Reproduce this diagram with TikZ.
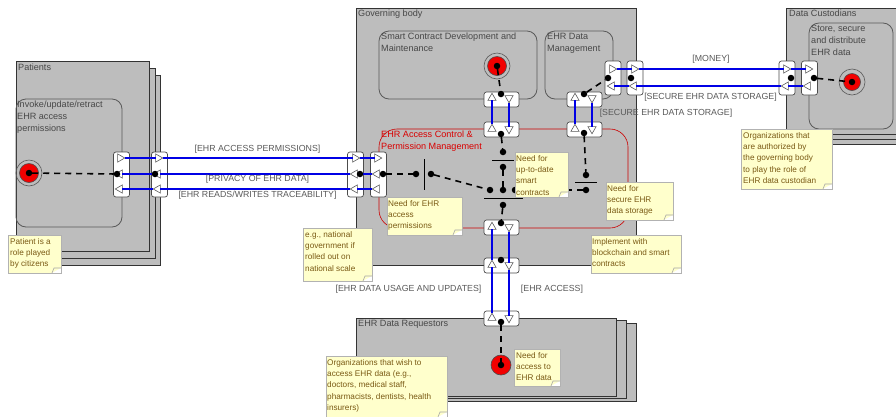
\documentclass[tikz,border=0pt]{standalone}
\usepackage{fontspec}
\setmainfont{Liberation Sans}
\usetikzlibrary{shapes.geometric,positioning}
\definecolor{notefill}{HTML}{FFFFCC}
\definecolor{notetext}{HTML}{7A5A14}
\tikzset{
	actor/.style={draw=black!80,fill=black!26,line width=0.8pt,inner sep=0pt,outer sep=0pt,anchor=north west},
	role/.style={draw=black!65,line width=0.8pt,rounded corners=10pt,inner sep=0pt,outer sep=0pt,anchor=north west},
	port/.style={draw=black!70,fill=white,line width=0.7pt,rounded corners=2.5pt,inner sep=0pt,outer sep=0pt},
	hport/.style={port,minimum width=16pt,minimum height=45pt},
	lport/.style={port,minimum width=16pt,minimum height=34pt},
	vport/.style={port,minimum width=35pt,minimum height=15pt},
	trig/.style={regular polygon,regular polygon sides=3,draw=black!65,fill=white,line width=0.6pt,minimum size=9.5pt,inner sep=0pt,outer sep=0pt},
	dot/.style={circle,fill=black,minimum size=6.5pt,inner sep=0pt,outer sep=0pt},
	bar/.style={fill=black,inner sep=0pt,outer sep=0pt},
	ring/.style={circle,draw=black!65,line width=0.6pt,minimum size=26pt,inner sep=0pt},
	goal/.style={circle,draw=black!70,fill=red!95!black,line width=0.6pt,minimum size=19pt,inner sep=0pt},
	wire/.style={draw=blue!90!black,line width=1.7pt},
	dep/.style={draw=black,line width=1.6pt,dash pattern=on 6pt off 5pt},
	txt/.style={font=\fontsize{9.1}{12}\selectfont,text=black!72,align=left,inner sep=0pt,anchor=north west,yshift=-1pt},
	flow/.style={font=\fontsize{8.8}{10}\selectfont,text=black!65,inner sep=0pt},
	note/.style={draw=black!30,fill=notefill,line width=0.6pt,inner sep=0pt,outer sep=0pt,anchor=north west,
		path picture={
			\fill[white] (path picture bounding box.south east) -- ++(-9,0) -- ++(9,-5) -- cycle;
			\draw[black!35] (path picture bounding box.south east) ++(-9,0) -- ++(2,-5) -- ++(7,0);
		}},
	notetxt/.style={font=\fontsize{8.2}{11.4}\selectfont,text=notetext,align=left,inner sep=0pt,anchor=north west,yshift=-2pt}
}
\begin{document}
\begin{tikzpicture}[x=1pt,y=-1pt]
	\useasboundingbox (0,0) rectangle (896,416);
	\clip (0,0) rectangle (896,416);

	% actors
	\node[actor,minimum width=133pt,minimum height=190pt] (pat3) at (27,75) {};
	\node[actor,minimum width=133pt,minimum height=190pt] (pat2) at (22,68) {};
	\node[actor,minimum width=133pt,minimum height=190pt] (pat1) at (16,61) {};
	\node[actor,minimum width=280pt,minimum height=257pt] (gov) at (356,8) {};
	\node[actor,minimum width=120pt,minimum height=126pt] (cust3) at (786,18) {};
	\node[actor,minimum width=120pt,minimum height=126pt] (cust2) at (786,13) {};
	\node[actor,minimum width=120pt,minimum height=126pt] (cust1) at (786,8) {};
	\node[actor,minimum width=260pt,minimum height=78pt] (req3) at (376,323) {};
	\node[actor,minimum width=260pt,minimum height=78pt] (req2) at (366,320) {};
	\node[actor,minimum width=260pt,minimum height=78pt] (req1) at (356,318) {};

	% roles
	\node[role,minimum width=106pt,minimum height=128pt] (invoke) at (16,99) {};
	\node[role,minimum width=158pt,minimum height=68pt] (smart) at (379,31) {};
	\node[role,minimum width=68pt,minimum height=68pt] (manage) at (545,31) {};
	\node[role,draw=red!80!black,line width=0.6pt,rounded corners=18pt,minimum width=249pt,minimum height=99pt] (access) at (379,129) {};
	\node[role,minimum width=84pt,minimum height=106pt] (store) at (809,23) {};

	\node[txt] (patlabel) at (18,63) {Patients};
	\node[txt] (invlabel) at (17,100) {Invoke/update/retract\\EHR access\\permissions};
	\node[txt] (govlabel) at (358,9) {Governing body};
	\node[txt] (smlabel) at (381,32) {Smart Contract Development and\\Maintenance};
	\node[txt] (malabel) at (547,32) {EHR Data\\Management};
	\node[txt,text=red!85!black] (aclabel) at (381,130) {EHR Access Control \&\\Permission Management};
	\node[txt] (culabel) at (789,9) {Data Custodians};
	\node[txt] (stlabel) at (811,24) {Store, secure\\and distribute\\EHR data};
	\node[txt] (relabel) at (358,319) {EHR Data Requestors};

	% ports
	\foreach \name/\xx/\yy/\sty in {p1/121.5/174.5/hport,p2/159.5/174.5/hport,p3/355.5/174.5/hport,p4/378.5/174.5/hport,
		c1/613/78/lport,c2/635/78/lport,c3/787/78/lport,c4/809.5/78/lport,
		s1/501.5/99.5/vport,s2/501.5/129.5/vport,m1/584.5/99.5/vport,m2/584.5/129.5/vport,
		r1/501.5/227.5/vport,r2/501.5/265.5/vport,r3/501.5/318.5/vport}
		\node[\sty] (\name) at (\xx,\yy) {};

	% triangles
	\foreach \name/\xx/\yy/\rot in {a1/120/158/-90,a2/158/158/-90,a3/355/158/-90,a4/377/158/-90,
		b1/120/174/90,b2/158/174/90,b3/355/174/90,b4/377/174/90,
		d1/120/189/90,d2/158/189/90,d3/355/189/90,d4/377/189/90,
		e1/612/69/-90,e2/634/69/-90,e3/786/69/-90,e4/808/69/-90,
		f1/612/86/90,f2/634/86/90,f3/786/86/90,f4/808/86/90,
		g1/492/98/0,g2/492/129/0,h1/509/98/180,h2/509/129/180,
		i1/575/98/0,i2/575/129/0,j1/592/98/180,j2/592/129/180,
		k1/492/227/0,k2/492/265/0,k3/492/318/0,l1/509/227/180,l2/509/265/180,l3/509/318/180}
		\node[trig,shape border rotate=\rot] (\name) at (\xx,\yy) {};

	% links
	\foreach \from/\to in {a1/a2,a2/a3,a3/a4,b1/b2,b2/b3,b3/b4,d1/d2,d2/d3,d3/d4,
		e1/e2,e2/e3,e3/e4,f1/f2,f2/f3,f3/f4,g1/g2,h1/h2,i1/i2,j1/j2,
		k1/k2,k2/k3,l1/l2,l2/l3}
		\draw[wire] (\from) -- (\to);

	\node[flow] (flowa) at (257.5,149) {[EHR ACCESS PERMISSIONS]};
	\node[flow] (flowb) at (257.5,179) {[PRIVACY OF EHR DATA]};
	\node[flow] (flowd) at (257.5,195) {[EHR READS/WRITES TRACEABILITY]};
	\node[flow] (flowe) at (711,59) {[MONEY]};
	\node[flow] (flowf) at (710.5,97) {[SECURE EHR DATA STORAGE]};
	\node[flow] (flowg) at (666,113) {[SECURE EHR DATA STORAGE]};
	\node[flow] (flowk) at (408.5,289) {[EHR DATA USAGE AND UPDATES]};
	\node[flow] (flowl) at (552,289) {[EHR ACCESS]};

	% goals
	\node[ring] (patring) at (29,173) {};
	\node[goal] (patgoal) at (29,173) {};
	\node[ring] (smring) at (497,66) {};
	\node[goal] (smgoal) at (497,66) {};
	\node[ring] (string) at (852,82) {};
	\node[goal,minimum size=17pt] (stgoal) at (852,82) {};
	\node[goal,minimum size=20pt] (regoal) at (501,365) {};

	% decisions
	\node[bar,minimum width=1pt,minimum height=31pt] (dec1) at (424,174.5) {};
	\node[bar,minimum height=1pt,minimum width=22pt] (dec2) at (503,160) {};
	\node[bar,minimum height=1pt,minimum width=39pt] (dec3) at (503.5,198) {};
	\node[bar,minimum height=1pt,minimum width=22pt] (dec4) at (586,182.5) {};

	% dots
	\foreach \name/\xx/\yy in {q0/29/173,q1/117/174,q2/155/174,q3/360/174,q4/383/174,q5/416/174,q6/431/174,
		u0/497/66,u1/501/94,u2/501/134,u3/503/152,u4/503/167,u5/503/190,u6/490/190,u7/515/190,u8/503/205,
		u9/501/223,u10/501/260,u11/501/322,u12/501/365,
		v1/584/94,v2/608/78,v3/631/78,v4/791/78,v5/814/78,v6/852/82,v7/584/133,v8/586/175,v9/586/190}
		\node[dot] (\name) at (\xx,\yy) {};

	\foreach \from/\to in {q0/q1,q4/q5,q6/u6,u0/u1,u2/u3,u4/u5,u8/u9,u11/u12,v1/v2,v5/v6,v7/v8,v9/u7}
		\draw[dep] (\from) -- (\to);

	% notes
	\node[note,minimum width=53pt,minimum height=38pt] (n1) at (8,235) {};
	\node[notetxt] at (10,236) {Patient is a\\role played\\by citizens};
	\node[note,minimum width=75pt,minimum height=38pt] (n2) at (387,197) {};
	\node[notetxt] at (388,198) {Need for EHR\\access\\permissions};
	\node[note,minimum width=69pt,minimum height=53pt] (n3) at (303,228) {};
	\node[notetxt] at (305,229) {e.g., national\\government if\\rolled out on\\national scale};
	\node[note,minimum width=53pt,minimum height=45pt] (n4) at (515,152) {};
	\node[notetxt] at (516,153) {Need for\\up-to-date\\smart\\contracts};
	\node[note,minimum width=67pt,minimum height=38pt] (n5) at (606,182) {};
	\node[notetxt] at (607,183) {Need for\\secure EHR\\data storage};
	\node[note,minimum width=90pt,minimum height=38pt] (n6) at (591,235) {};
	\node[notetxt] at (592,236) {Implement with\\blockchain and smart\\contracts};
	\node[note,minimum width=91pt,minimum height=60pt] (n7) at (741,129) {};
	\node[notetxt] at (743,130) {Organizations that\\are authorized by\\the governing body\\to play the role of\\EHR data custodian};
	\node[note,minimum width=121pt,minimum height=61pt] (n8) at (326,356) {};
	\node[notetxt] at (327,357) {Organizations that wish to\\access EHR data (e.g.,\\doctors, medical staff,\\pharmacists, dentists, health\\insurers)};
	\node[note,minimum width=46pt,minimum height=37pt] (n9) at (514,349) {};
	\node[notetxt] at (516,350) {Need for\\access to\\EHR data};
\end{tikzpicture}
\end{document}
